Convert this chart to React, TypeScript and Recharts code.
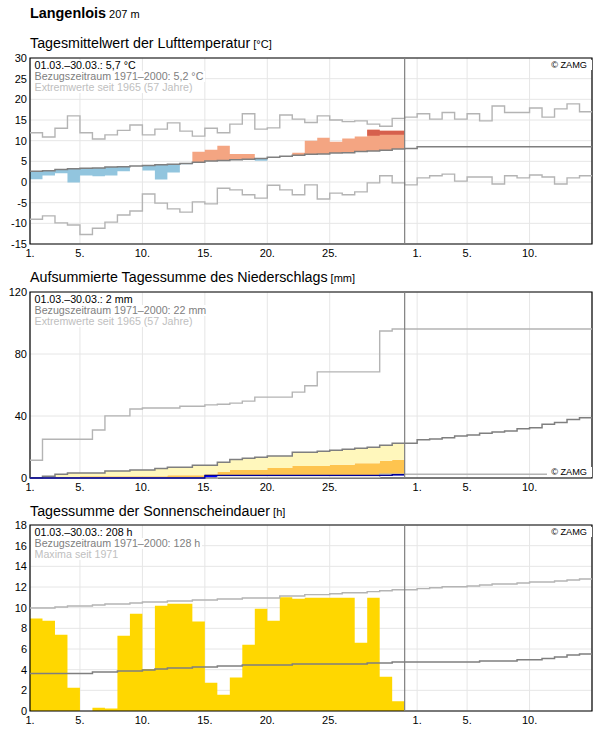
import React from 'react';
import {
  ComposedChart,
  Area,
  Line,
  XAxis,
  YAxis,
  CartesianGrid,
  ReferenceLine,
  ReferenceArea,
} from 'recharts';

const FONT = '"Liberation Sans", Arial, Helvetica, sans-serif';

// x = day index: 1..31 is March, 32..46 is 1..15 April
const xTicks = [1, 5, 10, 15, 20, 25, 32, 36, 41];
const xTickLabels = ['1.', '5.', '10.', '15.', '20.', '25.', '1.', '5.', '10.'];
const monthEnd = 31;

// Lufttemperatur, Tagesmittel (°C), 01.03.–30.03.
const tempMean = [
  0.65, 1.6, 2.1, -0.1, 1.6, 1.4, 1.6, 2.6, 3.9, 2.8,
  0.6, 2.3, 4.3, 7.3, 7.8, 8.8, 6.8, 6.8, 5.15, 6.0,
  6.2, 7.1, 10.0, 10.7, 9.75, 10.5, 11.0, 12.65, 12.4, 12.4,
];
// level above which the warm anomaly is drawn darker
const tempStrongFrom = [
  null, null, null, null, null, null, null, null, null, null,
  null, null, null, null, null, null, null, null, null, null,
  null, null, null, null, null, null, null, 11.2, 11.45, 11.45,
];
// 1971–2000, 1.3.–15.4.
const tempNormal = [
  2.6, 2.7, 3.0, 3.2, 3.3, 3.4, 3.6, 3.7, 3.9, 4.0,
  4.2, 4.3, 4.5, 4.8, 5.1, 5.2, 5.4, 5.5, 5.7, 6.0,
  6.2, 6.5, 6.7, 6.8, 7.0, 7.1, 7.4, 7.5, 7.7, 8.0,
  8.1, 8.5, 8.5, 8.5, 8.5, 8.5, 8.5, 8.5, 8.5, 8.5,
  8.5, 8.5, 8.5, 8.5, 8.5,
];
const tempMax = [
  11.9, 10.9, 13.0, 16.0, 11.9, 10.4, 11.4, 12.5, 13.8, 11.4,
  12.8, 14.3, 12.3, 11.1, 13.0, 11.9, 14.0, 16.5, 12.8, 13.1,
  16.2, 15.2, 14.4, 16.0, 15.0, 14.6, 14.8, 14.0, 13.5, 15.4,
  15.7, 16.5, 15.2, 16.8, 15.2, 16.5, 14.8, 18.4, 16.8, 16.8,
  17.9, 15.7, 17.7, 18.9, 17.0,
];
const tempMin = [
  -9.0, -8.2, -9.9, -10.4, -12.7, -11.2, -9.7, -8.0, -7.0, -2.9,
  -5.1, -6.5, -7.3, -4.8, -5.3, -1.5, -1.9, -3.1, -3.9, -0.8,
  -1.9, -3.1, -0.7, -4.1, -2.7, -3.1, -2.4, -0.2, 1.5, -0.2,
  -0.7, 1.0, 1.5, 1.9, 0.2, 1.2, 1.2, -0.5, 1.5, 1.0,
  1.7, 1.2, -0.5, 1.0, 1.5,
];

// Niederschlag (mm)
const precipDaily = [
  0, 0, 0, 0, 0, 0, 0, 0, 0, 0,
  0, 0, 0, 0, 1.7, 0, 0, 0, 0, 0,
  0, 0, 0, 0, 0, 0, 0, 0, 0, 0.4,
];
// upper edge of the dark (orange) band
const precipDryTop = [
  0, 0, 0.6, 0.6, 1.1, 1.1, 1.1, 1.1, 1.1, 1.1,
  1.1, 1.7, 1.7, 1.7, 2.4, 3.9, 5.2, 5.2, 5.2, 6.5,
  6.5, 7.8, 7.8, 7.8, 8.6, 8.6, 9.5, 9.5, 11.2, 11.8,
];
const precipNormal = [
  0.2, 1.1, 2.4, 3.2, 3.2, 3.2, 4.5, 4.5, 5.2, 5.2,
  6.2, 6.9, 6.9, 8.2, 8.2, 10.1, 12.0, 12.7, 13.4, 14.2,
  14.2, 16.6, 16.6, 17.2, 17.9, 18.5, 19.2, 19.8, 21.1, 22.4,
  22.4, 24.6, 25.2, 25.9, 27.1, 27.8, 28.9, 29.7, 30.4, 31.7,
  32.5, 34.7, 35.8, 37.7, 38.8,
];
const precipMax = [
  11.5, 25.0, 25.0, 25.0, 25.0, 31.0, 40.1, 40.1, 44.5, 45.2,
  45.2, 45.2, 46.3, 46.3, 47.2, 47.6, 48.3, 49.6, 52.2, 52.2,
  52.2, 55.4, 59.5, 68.5, 68.5, 68.5, 68.5, 68.5, 94.8, 96.1,
  96.1, 96.1, 96.1, 96.1, 96.1, 96.1, 96.1, 96.1, 96.1, 96.1,
  96.1, 96.1, 96.1, 96.1, 96.1,
];
const precipMin = [
  0, 0, 0, 0, 0, 0, 0, 0, 0, 0,
  0, 0, 0, 0, 0, 0.4, 0.4, 0.4, 0.4, 0.4,
  0.4, 0.4, 0.4, 0.4, 0.4, 0.4, 0.4, 0.4, 2.4, 2.4,
  2.4, 2.4, 2.4, 2.4, 2.4, 2.4, 2.4, 2.4, 2.4, 2.4,
  2.4, 2.4, 2.4, 2.4, 2.4,
];

// Sonnenscheindauer (h)
const sunHours = [
  8.94, 8.74, 7.39, 2.26, 0, 0.32, 0.23, 7.29, 9.42, 4.06,
  10.19, 10.39, 10.39, 8.65, 2.74, 1.58, 3.23, 6.42, 9.9, 8.74,
  11.0, 10.87, 10.97, 10.97, 10.97, 10.97, 6.6, 10.97, 3.32, 0.94,
];
const sunNormal = [
  3.64, 3.64, 3.64, 3.64, 3.64, 3.77, 3.77, 3.87, 3.87, 3.97,
  4.06, 4.16, 4.16, 4.26, 4.26, 4.35, 4.35, 4.45, 4.45, 4.45,
  4.45, 4.55, 4.55, 4.55, 4.55, 4.55, 4.55, 4.65, 4.65, 4.74,
  4.74, 4.74, 4.74, 4.74, 4.74, 4.74, 4.84, 4.84, 4.84, 4.97,
  4.97, 5.09, 5.23, 5.42, 5.52,
];
const sunMax = [
  9.97, 9.97, 10.06, 10.16, 10.16, 10.26, 10.35, 10.35, 10.45, 10.55,
  10.55, 10.65, 10.65, 10.74, 10.74, 10.84, 10.84, 10.94, 10.94, 10.94,
  11.13, 11.13, 11.26, 11.26, 11.35, 11.45, 11.45, 11.55, 11.64, 11.74,
  11.74, 11.84, 11.93, 12.03, 12.03, 12.1, 12.19, 12.29, 12.29, 12.39,
  12.48, 12.48, 12.58, 12.68, 12.77,
];

const days = Array.from({ length: 46 }, (_, i) => i + 1);
// last step of a series is held until the right edge
const at = (arr: number[], x: number) => arr[Math.min(x, arr.length) - 1];

const tempData = days.map((x) => {
  const norm = at(tempNormal, x);
  const row: any = { x, max: at(tempMax, x), min: at(tempMin, x), norm };
  if (x <= tempMean.length) {
    const v = tempMean[x - 1];
    row.below = v < norm ? [v, norm] : [norm, norm];
    row.above = v > norm ? [norm, v] : [norm, norm];
    const s = tempStrongFrom[x - 1];
    row.strong = s != null ? [s, v] : null;
  } else if (x === tempMean.length + 1) {
    row.below = [norm, norm];
    row.above = [norm, norm];
    row.strong = [norm, norm];
  }
  return row;
});

let cum = 0;
const precipData = days.map((x) => {
  const norm = at(precipNormal, x);
  const row: any = { x, max: at(precipMax, x), min: at(precipMin, x), norm };
  if (x <= precipDaily.length) {
    const prev = cum;
    cum = +(cum + precipDaily[x - 1]).toFixed(2);
    const low = Math.max(precipDryTop[x - 1], cum);
    row.obs = cum;
    row.rain = [prev, cum];
    row.dry = [cum, low];
    row.wet = [low, Math.max(norm, low)];
  } else if (x === precipDaily.length + 1) {
    row.obs = cum;
    row.rain = [cum, cum];
    row.dry = [cum, cum];
    row.wet = [norm, norm];
  }
  return row;
});

const sunData = days.map((x) => ({
  x,
  max: at(sunMax, x),
  norm: at(sunNormal, x),
  sun: x <= sunHours.length ? sunHours[x - 1] : x === sunHours.length + 1 ? 0 : null,
}));

const W = 596;
const PLOT_H = 186;
const M_TOP = 8;
const CHART_H = M_TOP + PLOT_H + 20;
const GRID = '#e6e6e6';
const EXTREME = '#b4b4b4';
const NORMAL = '#7f7f7f';

const tickStyle = { fill: '#000', fontSize: 11, fontFamily: FONT };

// shared grid/axes, returned as plain elements
function frame(domain: [number, number], yTicks: number[]) {
  return [
    <CartesianGrid key="grid" stroke={GRID} strokeWidth={1} />,
    <XAxis
      key="x"
      xAxisId={0}
      dataKey="x"
      type="number"
      domain={[1, 46]}
      ticks={xTicks}
      interval={0}
      tickFormatter={(v: number) => xTickLabels[xTicks.indexOf(v)]}
      axisLine={false}
      tickLine={false}
      tickSize={0}
      tickMargin={5.5}
      height={20}
      tick={tickStyle}
    />,
    <YAxis
      key="y"
      yAxisId={0}
      type="number"
      domain={domain}
      ticks={yTicks}
      interval={0}
      axisLine={false}
      tickLine={false}
      tickSize={0}
      tickMargin={3}
      width={30}
      tick={tickStyle}
    />,
  ];
}

function border(domain: [number, number]) {
  return [
    <ReferenceLine key="month" x={monthEnd} stroke={NORMAL} strokeWidth={1.2} />,
    <ReferenceArea
      key="box"
      x1={1}
      x2={46}
      y1={domain[0]}
      y2={domain[1]}
      fill="none"
      fillOpacity={0}
      stroke="#000"
      strokeWidth={1.2}
    />,
  ];
}

const stepLine = (key: string, color: string, width: number) => (
  <Line
    key={key}
    type="stepAfter"
    dataKey={key}
    stroke={color}
    strokeWidth={width}
    dot={false}
    activeDot={false}
    isAnimationActive={false}
  />
);

const stepArea = (key: string, color: string) => (
  <Area
    key={key}
    type="stepAfter"
    dataKey={key}
    stroke="none"
    fill={color}
    fillOpacity={1}
    dot={false}
    activeDot={false}
    isAnimationActive={false}
  />
);

function InfoBox({ plotTop, lines }: { plotTop: number; lines: [string, string][] }) {
  return (
    <div
      style={{
        position: 'absolute',
        left: 31,
        top: plotTop + 1.5,
        fontSize: 10.7,
        lineHeight: '11.3px',
        fontFamily: FONT,
        whiteSpace: 'nowrap',
      }}
    >
      {lines.map(([text, color], i) => (
        <div key={i} style={{ display: 'table', background: '#fff', color, padding: '0 2px 0 3.5px' }}>
          {text}
        </div>
      ))}
    </div>
  );
}

function Zamg({ top }: { top: number }) {
  return (
    <div
      style={{
        position: 'absolute',
        right: 4.5,
        top,
        fontSize: 9.2,
        lineHeight: '10px',
        fontFamily: FONT,
        background: '#fff',
        padding: '0 4.5px 0 4px',
        color: '#000',
      }}
    >
      © ZAMG
    </div>
  );
}

function Title({ top, text, unit }: { top: number; text: string; unit: string }) {
  return (
    <div
      style={{
        position: 'absolute',
        left: 30,
        top,
        fontSize: 14.25,
        lineHeight: '15px',
        fontFamily: FONT,
        color: '#000',
        whiteSpace: 'nowrap',
      }}
    >
      {text}
      <span style={{ fontSize: 11 }}> [{unit}]</span>
    </div>
  );
}

const TEMP_DOMAIN: [number, number] = [-15, 30];
const PRECIP_DOMAIN: [number, number] = [0, 120];
const SUN_DOMAIN: [number, number] = [0, 18];

export default function App() {
  const tops = [50, 284, 517];
  return (
    <div
      style={{
        position: 'absolute',
        left: 0,
        top: 0,
        width: W,
        height: 729,
        background: '#fff',
        overflow: 'hidden',
        fontFamily: FONT,
      }}
    >
      <div style={{ position: 'absolute', left: 30, top: 5, lineHeight: '16px', whiteSpace: 'nowrap' }}>
        <span style={{ fontSize: 14.4, fontWeight: 'bold' }}>Langenlois</span>
        <span style={{ fontSize: 11 }}> 207 m</span>
      </div>

      <Title top={tops[0] + M_TOP - 21.8} text="Tagesmittelwert der Lufttemperatur" unit="°C" />
      <div style={{ position: 'absolute', left: 0, top: tops[0] }}>
        <ComposedChart
          width={W}
          height={CHART_H}
          data={tempData}
          margin={{ top: M_TOP, right: 4, bottom: 0, left: 0 }}
        >
          {frame(TEMP_DOMAIN, [-15, -10, -5, 0, 5, 10, 15, 20, 25, 30])}
          {stepArea('below', '#92c5de')}
          {stepArea('above', '#f4a582')}
          {stepArea('strong', '#d6604d')}
          {stepLine('max', EXTREME, 1.4)}
          {stepLine('min', EXTREME, 1.4)}
          {stepLine('norm', NORMAL, 1.5)}
          {border(TEMP_DOMAIN)}
        </ComposedChart>
      </div>
      <InfoBox
        plotTop={tops[0] + M_TOP}
        lines={[
          ['01.03.–30.03.: 5,7 °C', '#000'],
          ['Bezugszeitraum 1971–2000: 5,2 °C', '#808080'],
          ['Extremwerte seit 1965 (57 Jahre)', '#c0c0c0'],
        ]}
      />
      <Zamg top={tops[0] + M_TOP + 1.9} />

      <Title top={tops[1] + M_TOP - 22} text="Aufsummierte Tagessumme des Niederschlags" unit="mm" />
      <div style={{ position: 'absolute', left: 0, top: tops[1] }}>
        <ComposedChart
          width={W}
          height={CHART_H}
          data={precipData}
          margin={{ top: M_TOP, right: 4, bottom: 0, left: 0 }}
        >
          {frame(PRECIP_DOMAIN, [0, 40, 80, 120])}
          {stepArea('dry', '#fec44f')}
          {stepArea('wet', '#fff7bc')}
          {stepArea('rain', '#0000ff')}
          {stepLine('max', EXTREME, 1.4)}
          {stepLine('min', EXTREME, 1.4)}
          {stepLine('norm', NORMAL, 1.5)}
          {stepLine('obs', '#000099', 1.3)}
          {border(PRECIP_DOMAIN)}
        </ComposedChart>
      </div>
      <InfoBox
        plotTop={tops[1] + M_TOP}
        lines={[
          ['01.03.–30.03.: 2 mm', '#000'],
          ['Bezugszeitraum 1971–2000: 22 mm', '#808080'],
          ['Extremwerte seit 1965 (57 Jahre)', '#c0c0c0'],
        ]}
      />
      <Zamg top={tops[1] + M_TOP + 175.4} />

      <Title top={tops[2] + M_TOP - 21} text="Tagessumme der Sonnenscheindauer" unit="h" />
      <div style={{ position: 'absolute', left: 0, top: tops[2] }}>
        <ComposedChart
          width={W}
          height={CHART_H}
          data={sunData}
          margin={{ top: M_TOP, right: 4, bottom: 0, left: 0 }}
        >
          {frame(SUN_DOMAIN, [0, 2, 4, 6, 8, 10, 12, 14, 16, 18])}
          {stepArea('sun', '#ffd700')}
          {stepLine('max', EXTREME, 1.4)}
          {stepLine('norm', NORMAL, 1.5)}
          {border(SUN_DOMAIN)}
        </ComposedChart>
      </div>
      <InfoBox
        plotTop={tops[2] + M_TOP}
        lines={[
          ['01.03.–30.03.: 208 h', '#000'],
          ['Bezugszeitraum 1971–2000: 128 h', '#808080'],
          ['Maxima seit 1971', '#c0c0c0'],
        ]}
      />
      <Zamg top={tops[2] + M_TOP + 1.9} />
    </div>
  );
}
